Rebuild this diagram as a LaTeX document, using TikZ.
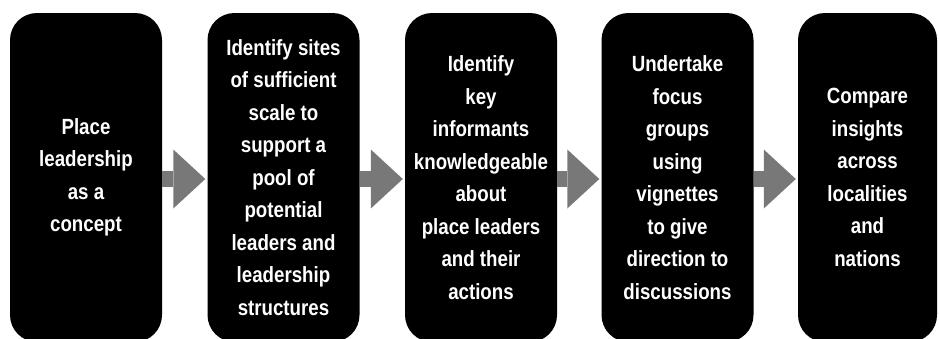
\documentclass[tikz,border=0pt]{standalone}
\usepackage{fontspec}
\setmainfont[FakeStretch=0.85]{Liberation Sans}
\usetikzlibrary{arrows.meta}
\definecolor{cinza}{RGB}{120,120,120}

\begin{document}
\begin{tikzpicture}[x=1pt, y=-1pt,
    caixa/.style={fill=black, rounded corners=27pt, minimum width=152pt, minimum height=329pt,
        text=white, text width=150pt, align=flush center, inner sep=0pt,
        font=\fontsize{22}{32.5}\selectfont\bfseries},
    seta/.style={cinza, line width=16pt, -{Triangle[length=32pt, width=59pt, line width=0pt]}}]

    % Margens da figura
    \useasboundingbox (0,0) rectangle (939,338);

    % Etapas
    \node[caixa] (e1) at (86,177.5) {Place\\ leadership\\ as a\\ concept};
    \node[caixa] (e2) at (283.5,177.5) {Identify sites\\ of sufficient\\ scale to\\ support a\\ pool of\\ potential\\ leaders and\\ leadership\\ structures};
    \node[caixa] (e3) at (481,177.5) {Identify\\ key\\ informants\\ knowledgeable\\ about\\ place leaders\\ and their\\ actions};
    \node[caixa] (e4) at (677.5,177.5) {Undertake\\ focus\\ groups\\ using\\ vignettes\\ to give\\ direction to\\ discussions};
    \node[caixa, minimum width=139pt, text width=137pt] (e5) at (867.5,177.5) {Compare\\ insights\\ across\\ localities\\ and\\ nations};

    % Setas
    \draw[seta] ([yshift=-1.5pt]e1.east) -- ([xshift=-2pt, yshift=-1.5pt]e2.west);
    \draw[seta] ([yshift=-1.5pt]e2.east) -- ([xshift=-2pt, yshift=-1.5pt]e3.west);
    \draw[seta] ([yshift=-1.5pt]e3.east) -- ([xshift=-2pt, yshift=-1.5pt]e4.west);
    \draw[seta] ([yshift=-1.5pt]e4.east) -- ([xshift=-2pt, yshift=-1.5pt]e5.west);

\end{tikzpicture}
\end{document}
